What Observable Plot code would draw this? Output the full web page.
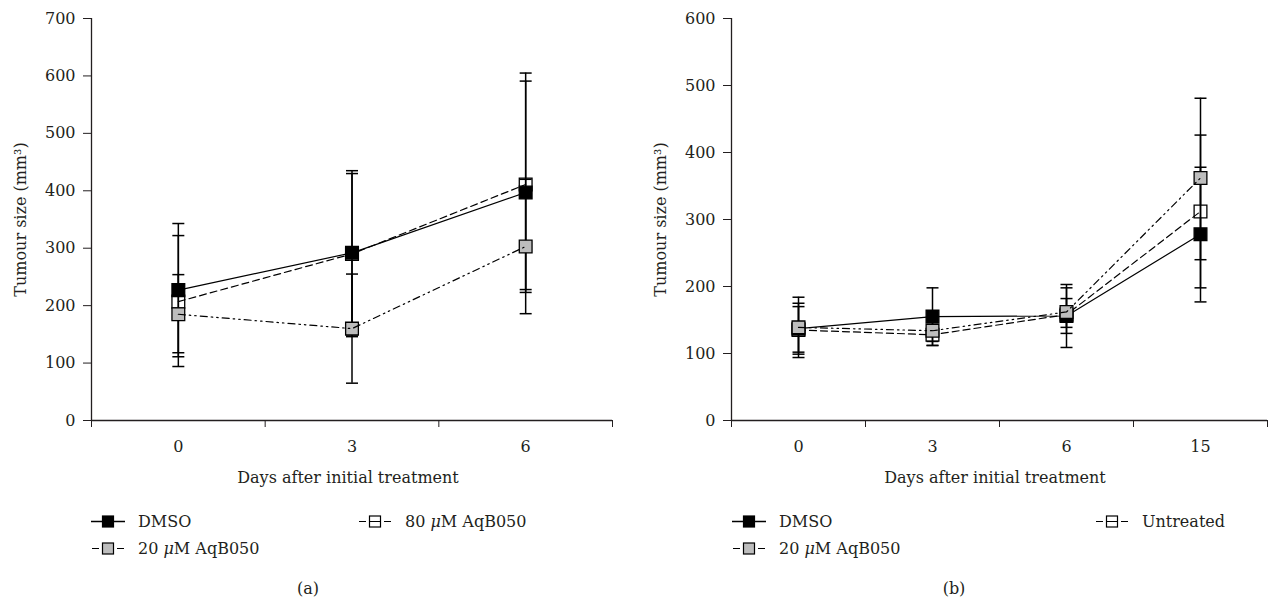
<!DOCTYPE html>
<html><head><meta charset="utf-8">
<script src="https://cdn.jsdelivr.net/npm/d3@7"></script>
<script src="https://cdn.jsdelivr.net/npm/@observablehq/plot@0.6"></script>
<style>
body{margin:0;background:#fff;}
#root{position:relative;width:1271px;height:600px;overflow:hidden;font-family:"DejaVu Serif",serif;color:#231f20;}
.panel{position:absolute;top:0;}
.t{position:absolute;font-size:16px;white-space:nowrap;transform:translate(-50%,-50%);}
.leg{position:absolute;display:flex;align-items:center;font-size:16px;white-space:nowrap;transform:translateY(-50%);}
.leg svg{margin-right:13px;}
</style></head><body><div id="root"></div>
<script>
// ---------- Data ----------
const daysA = ["0", "3", "6"];
const dmsoA_mean = [227, 292, 397];
const dmsoA_lo   = [111, 149, 228];
const dmsoA_hi   = [343, 435, 591];
const aq20A_mean = [185, 160, 303];
const aq20A_lo   = [118, 65, 186];
const aq20A_hi   = [254, 255, 420];
const aq80A_mean = [207, 290, 411];
const aq80A_lo   = [94, 146, 223];
const aq80A_hi   = [322, 430, 605];

const daysB = ["0", "3", "6", "15"];
const dmsoB_mean = [137, 155, 156, 278];
const dmsoB_lo   = [94, 112, 109, 177];
const dmsoB_hi   = [184, 198, 203, 378];
const aq20B_mean = [139, 134, 162, 362];
const aq20B_lo   = [102, 118, 139, 240];
const aq20B_hi   = [175, 150, 182, 481];
const untrB_mean = [135, 128, 158, 312];
const untrB_lo   = [99, 112, 130, 198];
const untrB_hi   = [170, 142, 198, 426];

const yTicksA = [0, 100, 200, 300, 400, 500, 600, 700];
const yTicksB = [0, 100, 200, 300, 400, 500, 600];

// ---------- Styles ----------
const INK = "#231f20";
const GRAY = "#bdbdbd";
const DASH = "7,4";
const DASHDOT = "7,4,1.5,4,1.5,4";

const capSymbol = {draw(ctx) { ctx.moveTo(-6, 0); ctx.lineTo(6, 0); }};

function rows(mean, lo, hi) { return mean.map((m, i) => ({i, mean: m, lo: lo[i], hi: hi[i]})); }

function panel({days, series, yTicks, width, marginRight}) {
  const marks = [
    Plot.ruleY([0], {stroke: INK, strokeWidth: 1.3}),
    Plot.ruleX([-0.5], {stroke: INK, strokeWidth: 1.3}),
    Plot.axisY({ticks: yTicks, tickSize: 8, tickPadding: 8, fontSize: 16,
      label: "Tumour size (mm³)", labelAnchor: "center", labelOffset: 77, labelArrow: "none"}),
    Plot.axisX({ticks: d3.range(-0.5, days.length, 1), tickSize: 7, tickFormat: () => "", label: null}),
    Plot.axisX({ticks: d3.range(days.length), tickSize: 0, tickPadding: 20, fontSize: 16,
      tickFormat: i => days[i], label: null})
  ];
  for (const s of series) {
    const data = rows(s.mean, s.lo, s.hi);
    marks.push(Plot.ruleX(data, {x: "i", y1: "lo", y2: "hi", stroke: "black", strokeWidth: 1.5}));
    marks.push(Plot.dot(data, {x: "i", y: "lo", symbol: capSymbol, stroke: "black", fill: "none", strokeWidth: 1.5}));
    marks.push(Plot.dot(data, {x: "i", y: "hi", symbol: capSymbol, stroke: "black", fill: "none", strokeWidth: 1.5}));
    marks.push(Plot.dot(data, {x: "i", y: "mean", symbol: "square", r: 7.2, fill: s.fill, stroke: "black", strokeWidth: 1.3}));
    marks.push(Plot.line(data, {x: "i", y: "mean", stroke: "black", strokeWidth: 1.2, strokeDasharray: s.dash}));
  }
  return Plot.plot({
    width, height: 460, marginLeft: 91, marginRight, marginTop: 18, marginBottom: 40,
    x: {domain: [-0.5, days.length - 0.5]},
    y: {domain: [0, yTicks[yTicks.length - 1]]},
    style: {fontFamily: "'DejaVu Serif', serif", fontSize: "16px", color: INK, background: "transparent", overflow: "visible"},
    marks
  });
}

const root = document.getElementById("root");

const seriesA = [
  {name: "80 μM AqB050", mean: aq80A_mean, lo: aq80A_lo, hi: aq80A_hi, fill: "white", dash: DASH},
  {name: "DMSO", mean: dmsoA_mean, lo: dmsoA_lo, hi: dmsoA_hi, fill: "black", dash: null},
  {name: "20 μM AqB050", mean: aq20A_mean, lo: aq20A_lo, hi: aq20A_hi, fill: GRAY, dash: DASHDOT}
];
const seriesB = [
  {name: "Untreated", mean: untrB_mean, lo: untrB_lo, hi: untrB_hi, fill: "white", dash: DASH},
  {name: "DMSO", mean: dmsoB_mean, lo: dmsoB_lo, hi: dmsoB_hi, fill: "black", dash: null},
  {name: "20 μM AqB050", mean: aq20B_mean, lo: aq20B_lo, hi: aq20B_hi, fill: GRAY, dash: DASHDOT}
];

function place(el, left) { const d = document.createElement("div"); d.className = "panel"; d.style.left = left + "px"; d.appendChild(el); root.appendChild(d); }
place(panel({days: daysA, series: seriesA, yTicks: yTicksA, width: 640, marginRight: 28}), 0);
place(panel({days: daysB, series: seriesB, yTicks: yTicksB, width: 631, marginRight: 4}), 640);

function text(html, x, y) { const d = document.createElement("div"); d.className = "t"; d.innerHTML = html; d.style.left = x + "px"; d.style.top = y + "px"; root.appendChild(d); }
text("Days after initial treatment", 348, 477);
text("Days after initial treatment", 995, 477);
text("(a)", 308, 588);
text("(b)", 954, 588);

function legSymbol(fill, dash) {
  const ns = "http://www.w3.org/2000/svg";
  const svg = document.createElementNS(ns, "svg");
  svg.setAttribute("width", 34); svg.setAttribute("height", 14);
  const mk = (tag, attrs) => { const e = document.createElementNS(ns, tag); for (const k in attrs) e.setAttribute(k, attrs[k]); svg.appendChild(e); return e; };
  if (dash) {
    mk("line", {x1: 1, x2: 8, y1: 7, y2: 7, stroke: "black", "stroke-width": 1.2});
    mk("line", {x1: 26, x2: 33, y1: 7, y2: 7, stroke: "black", "stroke-width": 1.2});
    mk("rect", {x: 11.5, y: 1.5, width: 11, height: 11, fill, stroke: "black", "stroke-width": 1.2});
    if (fill === "white") mk("line", {x1: 12, x2: 22, y1: 7, y2: 7, stroke: "black", "stroke-width": 1.2});
  } else {
    mk("line", {x1: 0, x2: 34, y1: 7, y2: 7, stroke: "black", "stroke-width": 1.4});
    mk("rect", {x: 11.5, y: 1.5, width: 11, height: 11, fill, stroke: "black", "stroke-width": 1.2});
  }
  return svg;
}
function legend(s, x, y) {
  const d = document.createElement("div"); d.className = "leg";
  d.style.left = x + "px"; d.style.top = y + "px";
  d.appendChild(legSymbol(s.fill, s.dash));
  const sp = document.createElement("span"); sp.innerHTML = s.name.replace("μ", "<i>μ</i>");
  d.appendChild(sp); root.appendChild(d);
}
legend(seriesA[1], 91, 521);
legend(seriesA[2], 91, 548);
legend(seriesA[0], 358, 521);
legend(seriesB[1], 732, 521);
legend(seriesB[2], 732, 548);
legend(seriesB[0], 1095, 521);
</script></body></html>
